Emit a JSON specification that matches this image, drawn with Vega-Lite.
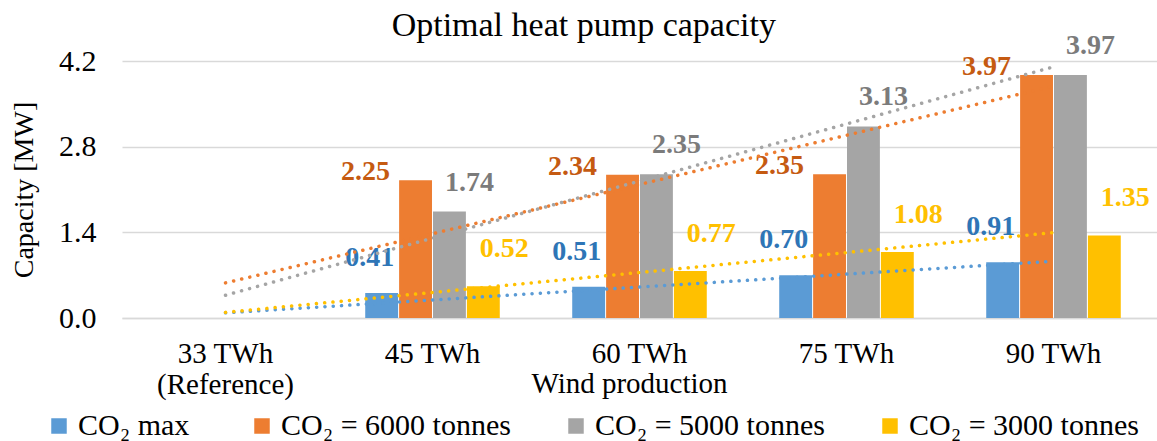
{
  "$schema": "https://vega.github.io/schema/vega-lite/v6.json",
  "width": 1035,
  "height": 257,
  "autosize": {"type": "none"},
  "padding": {"left": 122, "top": 61, "right": 0, "bottom": 123},
  "background": "white",
  "config": {"view": {"stroke": null}, "font": "Liberation Serif"},
  "title": {
    "text": "Optimal heat pump capacity",
    "font": "Liberation Serif",
    "fontSize": 34,
    "fontWeight": "normal",
    "color": "#000000",
    "anchor": "middle",
    "frame": "bounds",
    "offset": -11
  },
  "data": {
    "values": [
      {"cat": "33 TWh", "series": "CO₂ max", "value": 0},
      {"cat": "33 TWh", "series": "CO₂ = 6000 tonnes", "value": 0},
      {"cat": "33 TWh", "series": "CO₂ = 5000 tonnes", "value": 0},
      {"cat": "33 TWh", "series": "CO₂ = 3000 tonnes", "value": 0},
      {"cat": "45 TWh", "series": "CO₂ max", "value": 0.41},
      {"cat": "45 TWh", "series": "CO₂ = 6000 tonnes", "value": 2.25},
      {"cat": "45 TWh", "series": "CO₂ = 5000 tonnes", "value": 1.74},
      {"cat": "45 TWh", "series": "CO₂ = 3000 tonnes", "value": 0.52},
      {"cat": "60 TWh", "series": "CO₂ max", "value": 0.51},
      {"cat": "60 TWh", "series": "CO₂ = 6000 tonnes", "value": 2.34},
      {"cat": "60 TWh", "series": "CO₂ = 5000 tonnes", "value": 2.35},
      {"cat": "60 TWh", "series": "CO₂ = 3000 tonnes", "value": 0.77},
      {"cat": "75 TWh", "series": "CO₂ max", "value": 0.70},
      {"cat": "75 TWh", "series": "CO₂ = 6000 tonnes", "value": 2.35},
      {"cat": "75 TWh", "series": "CO₂ = 5000 tonnes", "value": 3.13},
      {"cat": "75 TWh", "series": "CO₂ = 3000 tonnes", "value": 1.08},
      {"cat": "90 TWh", "series": "CO₂ max", "value": 0.91},
      {"cat": "90 TWh", "series": "CO₂ = 6000 tonnes", "value": 3.97},
      {"cat": "90 TWh", "series": "CO₂ = 5000 tonnes", "value": 3.97},
      {"cat": "90 TWh", "series": "CO₂ = 3000 tonnes", "value": 1.35}
    ]
  },
  "layer": [
    {
      "encoding": {
        "x": {
          "field": "cat",
          "type": "nominal",
          "sort": ["33 TWh", "45 TWh", "60 TWh", "75 TWh", "90 TWh"],
          "scale": {"paddingInner": 0.35, "paddingOuter": 0.175},
          "axis": {
            "title": "Wind production",
            "titleFont": "Liberation Serif",
            "titleFontSize": 29,
            "titleFontWeight": "normal",
            "titleColor": "#000000",
            "titleBaseline": "alphabetic",
            "titleY": 74,
            "titleX": 507,
            "labelFont": "Liberation Serif",
            "labelFontSize": 29,
            "labelColor": "#000000",
            "labelAngle": 0,
            "labelPadding": 21,
            "labelLineHeight": 31,
            "labelExpr": "datum.value == '33 TWh' ? ['33 TWh', '(Reference)'] : datum.value",
            "ticks": false,
            "tickSize": 0,
            "domain": true,
            "domainColor": "#D9D9D9",
            "domainWidth": 1.5
          }
        },
        "xOffset": {
          "field": "series",
          "type": "nominal",
          "scale": {
            "domain": ["CO₂ max", "CO₂ = 6000 tonnes", "CO₂ = 5000 tonnes", "CO₂ = 3000 tonnes"],
            "paddingInner": 0.03
          }
        },
        "y": {
          "field": "value",
          "type": "quantitative",
          "scale": {"domain": [0, 4.2], "nice": false},
          "axis": {
            "title": "Capacity [MW]",
            "titleFont": "Liberation Serif",
            "titleFontSize": 28,
            "titleFontWeight": "normal",
            "titleColor": "#000000",
            "titlePadding": 20,
            "values": [0, 1.4, 2.8, 4.2],
            "format": ".1f",
            "labelFont": "Liberation Serif",
            "labelFontSize": 30,
            "labelColor": "#000000",
            "labelPadding": 26,
            "ticks": false,
            "tickSize": 0,
            "domain": false,
            "grid": true,
            "gridColor": "#D9D9D9",
            "gridWidth": 1.5
          }
        }
      },
      "layer": [
        {
          "mark": {"type": "bar"},
          "encoding": {
            "color": {
              "field": "series",
              "type": "nominal",
              "scale": {
                "domain": ["CO₂ max", "CO₂ = 6000 tonnes", "CO₂ = 5000 tonnes", "CO₂ = 3000 tonnes"],
                "range": ["#5B9BD5", "#ED7D31", "#A5A5A5", "#FFC000"]
              },
              "legend": {
                "title": null,
                "orient": "none",
                "legendX": -78,
                "legendY": 350,
                "direction": "horizontal",
                "symbolType": "square",
                "symbolSize": 240,
                "symbolStrokeWidth": 0,
                "labelFont": "Liberation Serif",
                "labelFontSize": 30,
                "labelColor": "#000000",
                "labelLimit": 400,
                "labelOffset": 4,
                "labelExpr": "datum.label == 'CO₂ max' ? 'CO₂  max' : datum.label",
                "columnPadding": 50
              }
            }
          }
        },
        {
          "transform": [{"filter": "datum.value > 0 && datum.series == 'CO₂ max'"}],
          "mark": {"type": "text", "font": "Liberation Serif", "fontSize": 28, "fontWeight": "bold", "color": "#2E75B6", "baseline": "middle", "align": "center", "dx": -12, "dy": -35},
          "encoding": {"text": {"field": "value", "type": "quantitative", "format": ".2f"}}
        },
        {
          "transform": [{"filter": "datum.value > 0 && datum.series == 'CO₂ = 6000 tonnes'"}],
          "mark": {"type": "text", "font": "Liberation Serif", "fontSize": 28, "fontWeight": "bold", "color": "#C55A11", "baseline": "middle", "align": "center", "dx": -50, "dy": -8},
          "encoding": {"text": {"field": "value", "type": "quantitative", "format": ".2f"}}
        },
        {
          "transform": [{"filter": "datum.value > 0 && datum.series == 'CO₂ = 5000 tonnes'"}],
          "mark": {"type": "text", "font": "Liberation Serif", "fontSize": 28, "fontWeight": "bold", "color": "#7B7B7B", "baseline": "middle", "align": "center", "dx": 20, "dy": -29},
          "encoding": {"text": {"field": "value", "type": "quantitative", "format": ".2f"}}
        },
        {
          "transform": [{"filter": "datum.value > 0 && datum.series == 'CO₂ = 3000 tonnes'"}],
          "mark": {"type": "text", "font": "Liberation Serif", "fontSize": 28, "fontWeight": "bold", "color": "#FFC000", "baseline": "middle", "align": "center", "dx": 21, "dy": -37},
          "encoding": {"text": {"field": "value", "type": "quantitative", "format": ".2f"}}
        }
      ]
    },
    {
      "transform": [
        {"window": [{"op": "dense_rank", "as": "idx"}], "sort": [{"field": "cat", "order": "ascending"}]},
        {"regression": "value", "on": "idx", "groupby": ["series"]}
      ],
      "mark": {"type": "line", "strokeWidth": 3.5, "strokeDash": [0.1, 8.2], "strokeCap": "round"},
      "encoding": {
        "x": {"field": "idx", "type": "quantitative", "scale": {"domain": [0.5, 5.5], "nice": false, "zero": false}, "axis": null},
        "y": {"field": "value", "type": "quantitative"},
        "stroke": {
          "field": "series",
          "type": "nominal",
          "scale": {
            "domain": ["CO₂ max", "CO₂ = 6000 tonnes", "CO₂ = 5000 tonnes", "CO₂ = 3000 tonnes"],
            "range": ["#5B9BD5", "#ED7D31", "#A5A5A5", "#FFC000"]
          },
          "legend": null
        },
        "detail": {"field": "series"}
      }
    }
  ],
  "resolve": {"scale": {"x": "independent"}, "axis": {"x": "independent"}}
}
